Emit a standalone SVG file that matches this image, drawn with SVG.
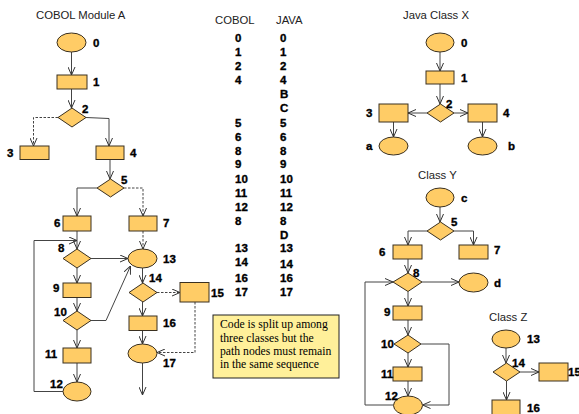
<svg xmlns="http://www.w3.org/2000/svg" width="579" height="414" viewBox="0 0 579 414">
<style>
.n{fill:#FFCC66;stroke:#3a3020;stroke-width:1}
.c{fill:none;stroke:#444;stroke-width:1}
.d{stroke-dasharray:2.5,1.5}
.l{font-family:"Liberation Sans",Arial,sans-serif;font-size:11.5px;font-weight:bold;fill:#000;stroke:#000;stroke-width:0.35}
.t{font-family:"Liberation Sans",Arial,sans-serif;font-size:11.3px;fill:#222}
.nt{font-family:"Liberation Serif","Times New Roman",serif;font-size:11.7px;fill:#000}
</style>
<defs>
<marker id="a" viewBox="0 0 8 8" refX="8" refY="4" markerWidth="8" markerHeight="8" markerUnits="userSpaceOnUse" orient="auto">
<path d="M0,0.5 L8,4 L0,7.5" fill="none" stroke="#333" stroke-width="1"/>
</marker>
</defs>
<rect width="579" height="414" fill="#fff"/>

<!-- Titles -->
<text class="t" x="36" y="19">COBOL Module A</text>
<text class="t" x="215" y="24">COBOL</text>
<text class="t" x="276" y="24">JAVA</text>
<text class="t" x="403" y="19">Java Class X</text>
<text class="t" x="418" y="179">Class Y</text>
<text class="t" x="489" y="321">Class Z</text>

<!-- Connectors -->
<g id="connectors">
<!-- Module A -->
<path class="c" d="M71.5,52 V75" marker-end="url(#a)"/>
<path class="c" d="M71.5,89 V108" marker-end="url(#a)"/>
<path class="c d" d="M58,117.5 H33.5 V146" marker-end="url(#a)"/>
<path class="c" d="M86,117.5 L109,118.5 V146" marker-end="url(#a)"/>
<path class="c" d="M110,159.5 V179" marker-end="url(#a)"/>
<path class="c" d="M97,188 H77 V216" marker-end="url(#a)"/>
<path class="c d" d="M124,188 H143 V216" marker-end="url(#a)"/>
<path class="c" d="M77,231 V249" marker-end="url(#a)"/>
<path class="c" d="M63,391.5 H34 V240.5 H77" marker-end="url(#a)"/>
<path class="c" d="M91,258.5 H128" marker-end="url(#a)"/>
<path class="c d" d="M143,231 V249" marker-end="url(#a)"/>
<path class="c" d="M77,268 V283" marker-end="url(#a)"/>
<path class="c" d="M77,297.5 V311" marker-end="url(#a)"/>
<path class="c" d="M91,320.5 H106 L130.5,266" marker-end="url(#a)"/>
<path class="c" d="M77,330 V348" marker-end="url(#a)"/>
<path class="c" d="M77,363 V382" marker-end="url(#a)"/>
<path class="c" d="M142.5,268 V283" marker-end="url(#a)"/>
<path class="c d" d="M157,292.5 H180" marker-end="url(#a)"/>
<path class="c" d="M142.5,302 V316" marker-end="url(#a)"/>
<path class="c" d="M142.5,330.5 V344" marker-end="url(#a)"/>
<path class="c d" d="M195,302 V352.5 H157" marker-end="url(#a)"/>
<path class="c" d="M142.5,363 V395" marker-end="url(#a)"/>
<!-- Class X -->
<path class="c" d="M440,52 V71" marker-end="url(#a)"/>
<path class="c" d="M440,84 V104" marker-end="url(#a)"/>
<path class="c" d="M427,113 H408" marker-end="url(#a)"/>
<path class="c" d="M454,113 H468" marker-end="url(#a)"/>
<path class="c" d="M393.5,122 V137" marker-end="url(#a)"/>
<path class="c" d="M482.5,122 V137" marker-end="url(#a)"/>
<!-- Class Y -->
<path class="c" d="M440,207 V222" marker-end="url(#a)"/>
<path class="c" d="M427,231 H408 V245" marker-end="url(#a)"/>
<path class="c" d="M454,231 H473.5 V245" marker-end="url(#a)"/>
<path class="c" d="M408,259 V273" marker-end="url(#a)"/>
<path class="c" d="M422,282 H459" marker-end="url(#a)"/>
<path class="c" d="M393.5,405 H365 V282 H393" marker-end="url(#a)"/>
<path class="c" d="M408,291.5 V306" marker-end="url(#a)"/>
<path class="c" d="M408,320 V335" marker-end="url(#a)"/>
<path class="c" d="M421,344 H449 V405 H422.5" marker-end="url(#a)"/>
<path class="c" d="M408,353 V367" marker-end="url(#a)"/>
<path class="c" d="M408,381 V396" marker-end="url(#a)"/>
<!-- Class Z -->
<path class="c" d="M506,348 V363" marker-end="url(#a)"/>
<path class="c" d="M520,372 H539" marker-end="url(#a)"/>
<path class="c" d="M506.5,381 V400" marker-end="url(#a)"/>
</g>

<!-- Module A nodes -->
<g id="A0"><ellipse class="n" cx="71.5" cy="42.5" rx="14.5" ry="9.5"/><text class="l" x="93" y="47">0</text></g>
<g id="A1"><rect class="n" x="57" y="75" width="30" height="14"/><text class="l" x="93" y="86">1</text></g>
<g id="A2"><polygon class="n" points="72,108 86,117.5 72,127 58,117.5"/><text class="l" x="82" y="113">2</text></g>
<g id="A3"><rect class="n" x="20" y="146" width="29" height="13.5"/><text class="l" x="7" y="157">3</text></g>
<g id="A4"><rect class="n" x="96" y="146" width="28" height="13.5"/><text class="l" x="130" y="157">4</text></g>
<g id="A5"><polygon class="n" points="110.5,179 124,188 110.5,197 97,188"/><text class="l" x="121" y="184">5</text></g>
<g id="A6"><rect class="n" x="63" y="216" width="28" height="15"/><text class="l" x="54" y="227">6</text></g>
<g id="A7"><rect class="n" x="129" y="216" width="28" height="15"/><text class="l" x="163" y="227">7</text></g>
<g id="A8"><polygon class="n" points="77,249 91,258.5 77,268 63,258.5"/><text class="l" x="58" y="252">8</text></g>
<g id="A9"><rect class="n" x="63" y="283" width="28" height="14.5"/><text class="l" x="53" y="292">9</text></g>
<g id="A10"><polygon class="n" points="77,311 91,320.5 77,330 63,320.5"/><text class="l" x="54" y="316">10</text></g>
<g id="A11"><rect class="n" x="63" y="348" width="28" height="15"/><text class="l" x="45" y="358">11</text></g>
<g id="A12"><ellipse class="n" cx="77" cy="391.5" rx="14" ry="9.5"/><text class="l" x="50" y="388">12</text></g>
<g id="A13"><ellipse class="n" cx="142.5" cy="258.5" rx="14.5" ry="9.5"/><text class="l" x="163" y="263">13</text></g>
<g id="A14"><polygon class="n" points="143,283 157,292.5 143,302 129,292.5"/><text class="l" x="149" y="282">14</text></g>
<g id="A15"><rect class="n" x="180" y="282.5" width="29" height="19.5"/><text class="l" x="211" y="297">15</text></g>
<g id="A16"><rect class="n" x="129" y="316" width="28" height="14.5"/><text class="l" x="163" y="327">16</text></g>
<g id="A17"><ellipse class="n" cx="142.5" cy="353.5" rx="14.5" ry="9.5"/><text class="l" x="163" y="367">17</text></g>

<!-- Mapping table -->
<g id="table">
<text class="l" x="235" y="42">0</text><text class="l" x="280" y="42">0</text>
<text class="l" x="235" y="56">1</text><text class="l" x="280" y="56">1</text>
<text class="l" x="235" y="70">2</text><text class="l" x="280" y="70">2</text>
<text class="l" x="235" y="84">4</text><text class="l" x="280" y="84">4</text>
<text class="l" x="280" y="98">B</text>
<text class="l" x="280" y="112">C</text>
<text class="l" x="235" y="127">5</text><text class="l" x="280" y="127">5</text>
<text class="l" x="235" y="141">6</text><text class="l" x="280" y="141">6</text>
<text class="l" x="235" y="155">8</text><text class="l" x="280" y="155">8</text>
<text class="l" x="235" y="168">9</text><text class="l" x="280" y="168">9</text>
<text class="l" x="235" y="183">10</text><text class="l" x="280" y="183">10</text>
<text class="l" x="235" y="197">11</text><text class="l" x="280" y="197">11</text>
<text class="l" x="235" y="211">12</text><text class="l" x="280" y="211">12</text>
<text class="l" x="235" y="225">8</text><text class="l" x="280" y="225">8</text>
<text class="l" x="280" y="239">D</text>
<text class="l" x="235" y="252">13</text><text class="l" x="280" y="252">13</text>
<text class="l" x="235" y="266">14</text><text class="l" x="280" y="268">14</text>
<text class="l" x="235" y="282">16</text><text class="l" x="280" y="282">16</text>
<text class="l" x="235" y="296">17</text><text class="l" x="280" y="296">17</text>
</g>

<!-- Note -->
<g id="note">
<rect x="213" y="315" width="126" height="63" fill="#FFF09A" stroke="#222" stroke-width="1"/>
<text class="nt" x="220" y="328">Code is split up among</text>
<text class="nt" x="220" y="342">three classes but the</text>
<text class="nt" x="220" y="355">path nodes must remain</text>
<text class="nt" x="220" y="368">in the same sequence</text>
</g>

<!-- Class X -->
<g id="X0"><ellipse class="n" cx="440" cy="42.5" rx="14" ry="9.5"/><text class="l" x="461" y="47">0</text></g>
<g id="X1"><rect class="n" x="426" y="71" width="28" height="13"/><text class="l" x="461" y="82">1</text></g>
<g id="X2"><polygon class="n" points="440.5,104 454,113 440.5,122 427,113"/><text class="l" x="446" y="108">2</text></g>
<g id="X3"><rect class="n" x="379" y="104" width="29" height="18"/><text class="l" x="366" y="117">3</text></g>
<g id="X4"><rect class="n" x="468" y="104" width="29" height="18"/><text class="l" x="503" y="117">4</text></g>
<g id="Xa"><ellipse class="n" cx="393.5" cy="146" rx="14.5" ry="9"/><text class="l" x="366" y="150">a</text></g>
<g id="Xb"><ellipse class="n" cx="482.5" cy="146" rx="14.5" ry="9"/><text class="l" x="508" y="150">b</text></g>

<!-- Class Y -->
<g id="Yc"><ellipse class="n" cx="440" cy="197.5" rx="14" ry="9.5"/><text class="l" x="461" y="202">c</text></g>
<g id="Y5"><polygon class="n" points="440.5,222 454,231 440.5,240 427,231"/><text class="l" x="451" y="226">5</text></g>
<g id="Y6"><rect class="n" x="393" y="245" width="29" height="14"/><text class="l" x="379" y="256">6</text></g>
<g id="Y7"><rect class="n" x="459" y="245" width="29" height="14"/><text class="l" x="494" y="254">7</text></g>
<g id="Y8"><polygon class="n" points="408,273 422,282 408,291.5 393,282"/><text class="l" x="413" y="277">8</text></g>
<g id="Yd"><ellipse class="n" cx="473.5" cy="282.5" rx="14.5" ry="9.5"/><text class="l" x="494" y="287">d</text></g>
<g id="Y9"><rect class="n" x="393" y="306" width="29" height="14"/><text class="l" x="384" y="316">9</text></g>
<g id="Y10"><polygon class="n" points="408,335 421,344 408,353 394,344"/><text class="l" x="381" y="348">10</text></g>
<g id="Y11"><rect class="n" x="393" y="367" width="29" height="14"/><text class="l" x="381" y="378">11</text></g>
<g id="Y12"><ellipse class="n" cx="408" cy="405.5" rx="14.5" ry="9.5"/><text class="l" x="385" y="400">12</text></g>

<!-- Class Z -->
<g id="Z13"><ellipse class="n" cx="506" cy="339" rx="14" ry="9"/><text class="l" x="527" y="343">13</text></g>
<g id="Z14"><polygon class="n" points="506.5,363 520,372 506.5,381 493,372"/><text class="l" x="512" y="367">14</text></g>
<g id="Z15"><rect class="n" x="539" y="363" width="29" height="18"/><text class="l" x="568" y="376">15</text></g>
<g id="Z16"><rect class="n" x="492" y="400" width="28" height="18"/><text class="l" x="527" y="412">16</text></g>
</svg>
